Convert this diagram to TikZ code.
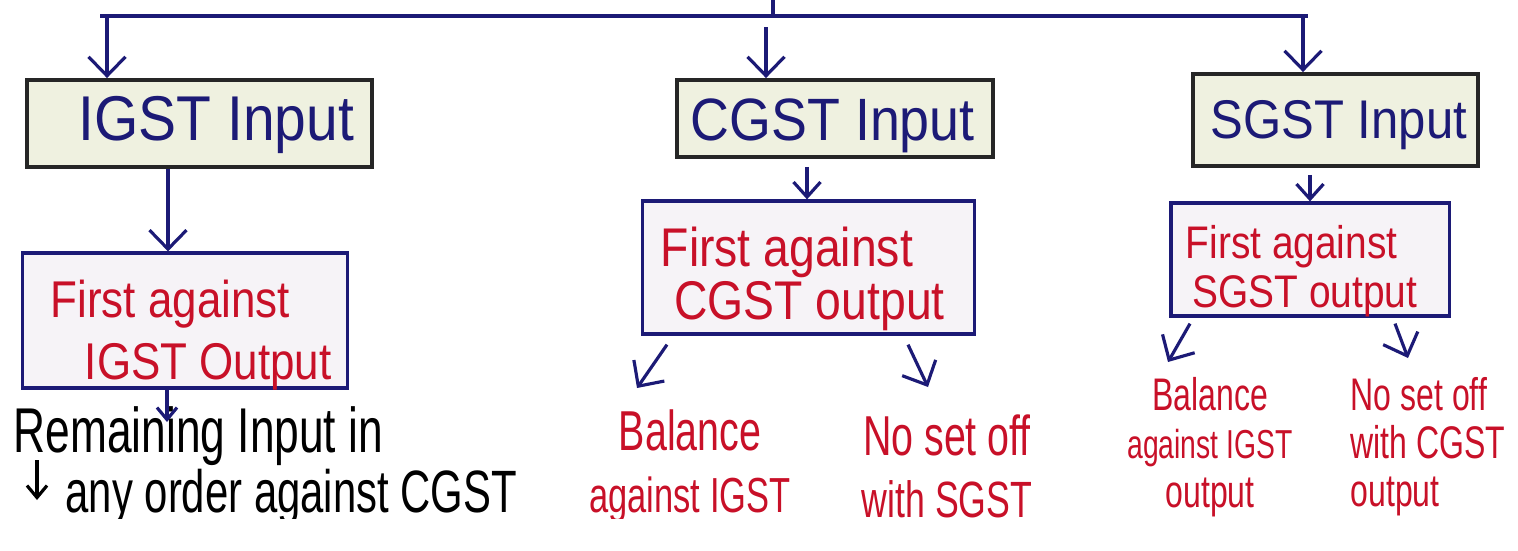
\documentclass[tikz,border=0pt]{standalone}
\usepackage{fontspec}
\setmainfont{Liberation Sans}
\newfontfamily\boxfont[FakeStretch=0.9]{Liberation Sans}
\newfontfamily\handfont[FakeStretch=0.85]{Liberation Sans}
\newfontfamily\notefont[FakeStretch=0.7]{Liberation Sans}
\usetikzlibrary{arrows.meta,positioning}
\definecolor{inkblue}{RGB}{28,26,118}
\definecolor{inkred}{RGB}{200,16,40}
\definecolor{inputfill}{RGB}{239,241,224}
\definecolor{firstfill}{RGB}{246,243,247}

\begin{document}
\begin{tikzpicture}[x=0.01cm, y=-0.01cm,
        inbox/.style={draw=black!85, line width=1.1pt, fill=inputfill, inner sep=0pt},
        intext/.style={anchor=base west, inner sep=0pt, text=inkblue, font=\boxfont\fontsize{18}{21}\selectfont},
        firstbox/.style={draw=inkblue, line width=0.9pt, fill=firstfill, inner sep=0pt},
        firsttext/.style={anchor=west, inner sep=0pt, text=inkred, align=left},
        note/.style={inner sep=0pt, text=inkred},
        link/.style={draw=inkblue, line width=0.9pt, -{Straight Barb[length=1.9mm,width=3.7mm]}},
        small link/.style={link, -{Straight Barb[length=1.5mm,width=2.7mm]}}]
    \useasboundingbox (0,0) rectangle (1518,550);
    % input boxes
    \node[inbox, minimum width=3.45cm, minimum height=0.87cm] (igst) at (199.5,123.5) {};
    \node[inbox, minimum width=3.16cm, minimum height=0.77cm] (cgst) at (835,118.5) {};
    \node[inbox, minimum width=2.85cm, minimum height=0.92cm] (sgst) at (1335.5,120) {};
    \node[intext] (igsttext) at (78,140) {IGST Input};
    \node[intext, font=\boxfont\fontsize{17}{20}\selectfont] (cgsttext) at (690,140) {CGST Input};
    \node[intext, font=\boxfont\fontsize{15.5}{19}\selectfont] (sgsttext) at (1210,138) {SGST Input};
    % first set off boxes
    \node[firstbox, minimum width=3.24cm, minimum height=1.35cm] (ifirst) at (185,320.5) {};
    \node[firstbox, minimum width=3.31cm, minimum height=1.33cm] (cfirst) at (808.5,267.5) {};
    \node[firstbox, minimum width=2.78cm, minimum height=1.13cm] (sfirst) at (1310,259.5) {};
    \node[firsttext, font=\handfont\fontsize{14.7}{17.6}\selectfont] (ifirsttext) at (50,335) {First against\\\hspace{0.66em}IGST Output};
    \node[firsttext, font=\handfont\fontsize{15.5}{15}\selectfont] (cfirsttext) at (660,279) {First against\\\hspace{0.25em}CGST output};
    \node[firsttext, font=\handfont\fontsize{13}{14}\selectfont] (sfirsttext) at (1185,271) {First against\\\hspace{0.15em}SGST output};
    % results
    \begin{scope}
        \clip (0,0) rectangle (1100,518);
        \node[anchor=base west, inner sep=0pt, font=\notefont\fontsize{18}{21}\selectfont] (remain) at (13,452) {Remaining Input in};
        \node[anchor=base west, inner sep=0pt, font=\notefont\fontsize{17}{20}\selectfont] (anyorder) at (65,512) {any order against CGST};
        \node[note, align=center, font=\notefont\fontsize{16}{17.6}\selectfont] (cbal) at (690,466) {Balance\\\fontsize{14}{17.6}\selectfont against IGST};
        \node[note, align=center, font=\notefont\fontsize{16}{17.6}\selectfont] (cnoset) at (947,466) {No set off\\\fontsize{14.5}{17.6}\selectfont with SGST};
    \end{scope}
    \node[note, align=center, font=\notefont\fontsize{13}{13.7}\selectfont] (sbal) at (1210,447) {Balance\\\fontsize{11.5}{13.7}\selectfont against IGST\\output};
    \node[note, align=left, anchor=west, font=\notefont\fontsize{13}{13.7}\selectfont] (snoset) at (1350,447) {No set off\\with CGST\\output};
    % top bus
    \coordinate (root) at (773,0);
    \coordinate (busl) at (107,16);
    \coordinate (busm) at (773,16);
    \coordinate (busr) at (1303,16);
    \coordinate (cgstin) at (766,27);
    \draw[inkblue, line width=0.9pt] (root) -- (busm);
    \draw[inkblue, line width=0.9pt] (100,16) -- (1308,16);
    \draw[link] (busl) -- (igst.north -| busl);
    \draw[link] (cgstin) -- (cgst.north -| cgstin);
    \draw[link] (busr) -- (sgst.north -| busr);
    % input to first
    \coordinate (ilink) at (168,0);
    \draw[link] (igst.south -| ilink) -- (ifirst.north -| ilink);
    \coordinate (clink) at (807,0);
    \draw[small link] ([yshift=-0.08cm]cgst.south -| clink) -- (cfirst.north -| clink);
    \draw[small link] ([yshift=-0.07cm]sgst.south -| sfirst.north) -- (sfirst.north);
    % first to results
    \coordinate (remtip) at (167,422);
    \draw[small link, -{Straight Barb[length=1.2mm,width=2mm]}] (ifirst.south -| remtip) -- (remtip);
    \coordinate (rtop) at (37,460);
    \coordinate (rtip) at (37,500);
    \draw[small link, -{Straight Barb[length=1.2mm,width=2mm]}, draw=black] (rtop) -- (rtip);
    \coordinate (cbaltip) at (637,388);
    \coordinate (cnosettip) at (928,387);
    \draw[link] ([yshift=-0.09cm]cfirst.south -| 667,0) -- (cbaltip);
    \draw[link] ([yshift=-0.09cm]cfirst.south -| 908,0) -- (cnosettip);
    \coordinate (sbaltip) at (1168,362);
    \coordinate (snosettip) at (1408,358);
    \draw[link] ([yshift=-0.06cm]sfirst.south -| 1190,0) -- (sbaltip);
    \draw[link] ([yshift=-0.06cm]sfirst.south -| 1395,0) -- (snosettip);
\end{tikzpicture}
\end{document}
